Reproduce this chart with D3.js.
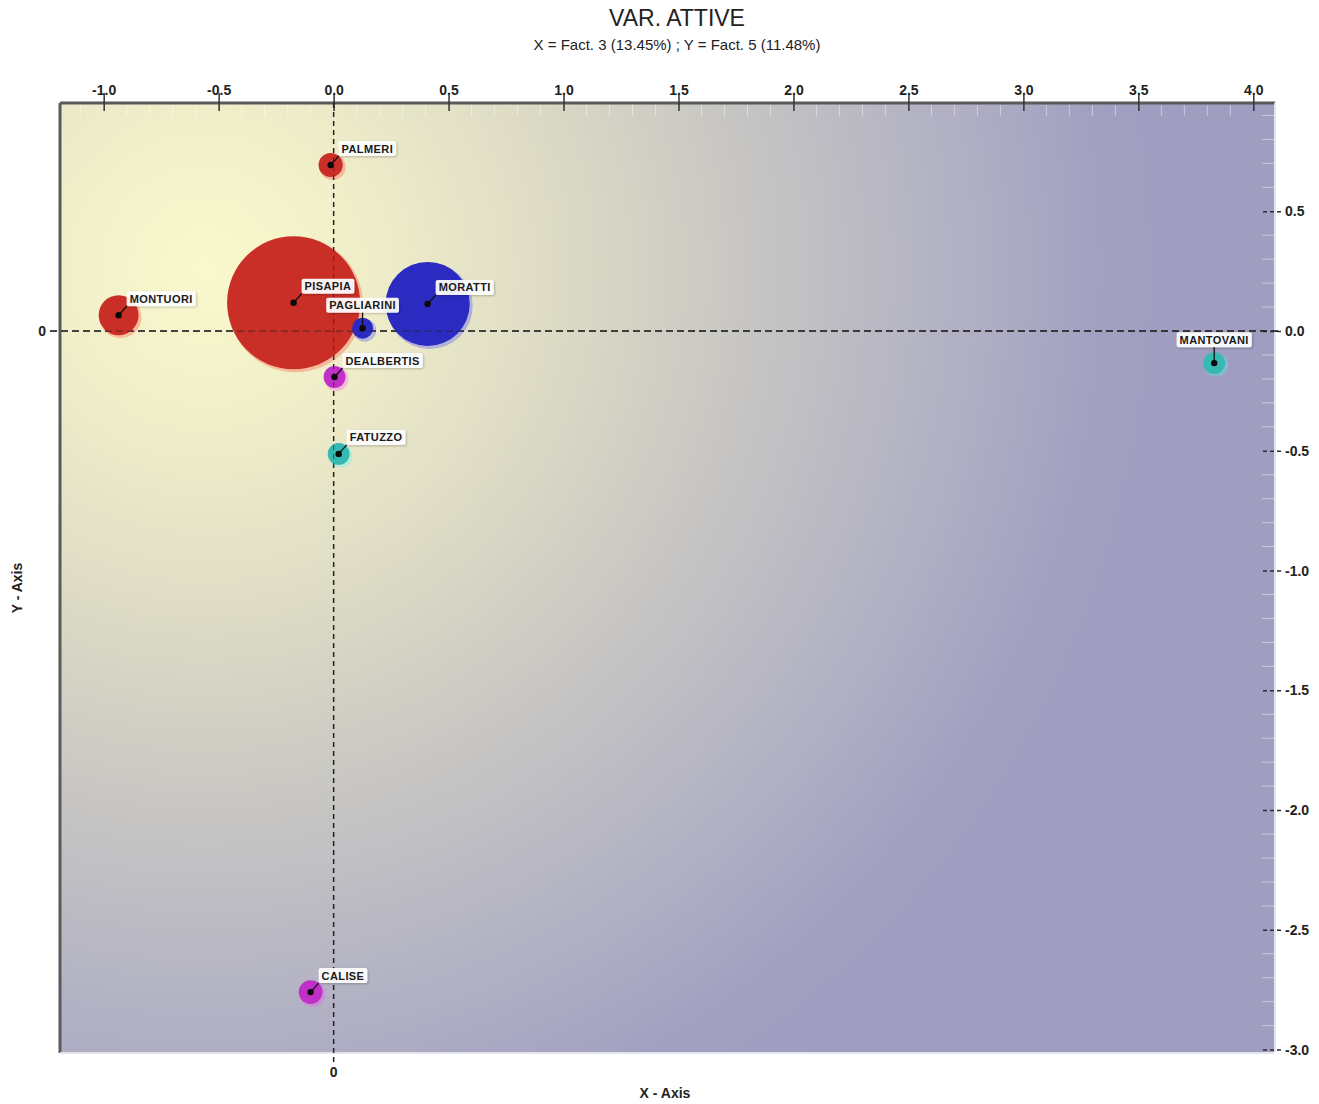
<!DOCTYPE html>
<html>
<head>
<meta charset="utf-8">
<script src="https://cdn.jsdelivr.net/npm/d3@7"></script>
<style>
  html, body { margin: 0; padding: 0; background: #ffffff; }
  svg { display: block; font-family: Arial, "Liberation Sans", sans-serif; }
</style>
</head>
<body>
<svg id="chart" width="1319" height="1104"></svg>
<script>
// ---- data ----
const names   = ["PALMERI", "MONTUORI", "PISAPIA", "MORATTI", "PAGLIARINI", "DEALBERTIS", "FATUZZO", "MANTOVANI", "CALISE"];
const xVals   = [-0.013, -0.935, -0.174, 0.409, 0.126, 0.004, 0.022, 3.83, -0.10];
const yVals   = [0.693, 0.066, 0.118, 0.113, 0.012, -0.192, -0.513, -0.134, -2.76];
const weights = [3.3, 9.0, 100, 40, 2.5, 2.7, 2.7, 2.7, 3.2];
const groups  = ["A", "A", "A", "B", "B", "C", "D", "D", "C"];
const labelAnchor = ["ne", "ne", "ne", "ne", "n", "ne", "ne", "n", "ne"];
const xTicks  = [-1.0, -0.5, 0.0, 0.5, 1.0, 1.5, 2.0, 2.5, 3.0, 3.5, 4.0];
const yTicks  = [0.5, 0.0, -0.5, -1.0, -1.5, -2.0, -2.5, -3.0];
const groupColors = { A: "#c92f27", B: "#2b2bc2", C: "#c02fc6", D: "#36b8b3" };
const titleText = "VAR. ATTIVE";
const subtitleText = "X = Fact. 3 (13.45%) ; Y = Fact. 5 (11.48%)";

// ---- layout ----
const plot = { left: 60, top: 103, right: 1274, bottom: 1052 };
const x = d3.scaleLinear().domain([-1.19, 4.09]).range([plot.left, plot.right]);
const y = d3.scaleLinear().domain([0.952, -3.01]).range([plot.top, plot.bottom]);
const r = d3.scaleSqrt().domain([0, 100]).range([0, 66.5]);
const fmt = v => d3.format(".1f")(v).replace("\u2212", "-");

const svg = d3.select("#chart");
const defs = svg.append("defs");

const grad = defs.append("radialGradient")
  .attr("id", "bg").attr("gradientUnits", "userSpaceOnUse")
  .attr("cx", 205).attr("cy", 270).attr("r", 1000);
[[0, "#faf8cc"], [0.15, "#f1efc9"], [0.35, "#dddbc5"], [0.55, "#c6c5c3"],
 [0.75, "#b2b1c4"], [0.9, "#a2a0c1"], [1, "#9f9dc0"]].forEach(([o, c]) =>
  grad.append("stop").attr("offset", o).attr("stop-color", c));

const shadow = defs.append("filter").attr("id", "lblShadow")
  .attr("x", "-20%").attr("y", "-40%").attr("width", "140%").attr("height", "180%");
shadow.append("feDropShadow").attr("dx", 1).attr("dy", 1).attr("stdDeviation", 0.8)
  .attr("flood-color", "#000").attr("flood-opacity", 0.25);

// background
svg.append("rect")
  .attr("x", plot.left).attr("y", plot.top)
  .attr("width", plot.right - plot.left).attr("height", plot.bottom - plot.top)
  .attr("fill", "url(#bg)");

// frame
svg.append("line").attr("x1", plot.left).attr("x2", plot.left)
  .attr("y1", plot.top).attr("y2", plot.bottom + 1)
  .attr("stroke", "#5a5a5a").attr("stroke-width", 3);
svg.append("line").attr("x1", plot.left).attr("x2", plot.right + 1)
  .attr("y1", plot.top).attr("y2", plot.top)
  .attr("stroke", "#5a5a5a").attr("stroke-width", 3);
svg.append("line").attr("x1", plot.left).attr("x2", plot.right)
  .attr("y1", plot.bottom + 1).attr("y2", plot.bottom + 1)
  .attr("stroke", "#e4e4ec").attr("stroke-width", 2);
svg.append("line").attr("x1", plot.right + 1).attr("x2", plot.right + 1)
  .attr("y1", plot.top).attr("y2", plot.bottom)
  .attr("stroke", "#e4e4ee").attr("stroke-width", 2);

// minor ticks (inside)
const xMinor = d3.range(-11, 41).map(i => i / 10).filter(v => Math.abs(v * 2 - Math.round(v * 2)) > 1e-6);
svg.append("g").selectAll("line").data(xMinor).join("line")
  .attr("x1", d => x(d)).attr("x2", d => x(d))
  .attr("y1", plot.top + 2).attr("y2", plot.top + 13)
  .attr("stroke", "#ffffff").attr("stroke-opacity", 0.45).attr("stroke-width", 1);
const yMinor = d3.range(-30, 10).map(i => i / 10).filter(v => Math.abs(v * 2 - Math.round(v * 2)) > 1e-6);
svg.append("g").selectAll("line").data(yMinor).join("line")
  .attr("x1", plot.right - 12).attr("x2", plot.right)
  .attr("y1", d => y(d)).attr("y2", d => y(d))
  .attr("stroke", "#ffffff").attr("stroke-opacity", 0.45).attr("stroke-width", 1);

// top axis
const topAxis = svg.append("g").attr("transform", `translate(0,${plot.top})`)
  .call(d3.axisTop(x).tickValues(xTicks).tickFormat(fmt).tickSize(0).tickPadding(8));
topAxis.select(".domain").remove();
topAxis.selectAll(".tick line").remove();
topAxis.selectAll(".tick").append("line")
  .attr("y1", -10).attr("y2", 8).attr("stroke", "#333").attr("stroke-width", 1.5);
topAxis.selectAll(".tick text")
  .attr("font-size", 14).attr("font-weight", "bold").attr("fill", "#222")
  .attr("font-family", "Arial, 'Liberation Sans', sans-serif");

// right axis
const rightAxis = svg.append("g").attr("transform", `translate(${plot.right},0)`)
  .call(d3.axisRight(y).tickValues(yTicks).tickFormat(fmt).tickSize(0).tickPadding(11));
rightAxis.select(".domain").remove();
rightAxis.selectAll(".tick line").remove();
rightAxis.selectAll(".tick").append("line")
  .attr("x1", -11).attr("x2", 9).attr("stroke", "#2a2a3a").attr("stroke-width", 1.5)
  .attr("stroke-dasharray", "4,3");
rightAxis.selectAll(".tick text")
  .attr("font-size", 14).attr("font-weight", "bold").attr("fill", "#222")
  .attr("font-family", "Arial, 'Liberation Sans', sans-serif");

// zero crosshair
svg.append("line")
  .attr("x1", x(0)).attr("x2", x(0))
  .attr("y1", plot.top).attr("y2", plot.bottom + 12)
  .attr("stroke", "#222").attr("stroke-width", 1.4).attr("stroke-dasharray", "5,4");
svg.append("line")
  .attr("x1", plot.left - 10).attr("x2", plot.right + 4)
  .attr("y1", y(0)).attr("y2", y(0))
  .attr("stroke", "#222").attr("stroke-width", 1.4).attr("stroke-dasharray", "7,4");
svg.append("text").attr("x", x(0)).attr("y", plot.bottom + 25)
  .attr("text-anchor", "middle").attr("font-size", 14).attr("font-weight", "bold").attr("fill", "#222")
  .text("0");
svg.append("text").attr("x", plot.left - 14).attr("y", y(0) + 5)
  .attr("text-anchor", "end").attr("font-size", 14).attr("font-weight", "bold").attr("fill", "#222")
  .text("0");

// bubbles
const data = names.map((n, i) => ({
  name: n, x: xVals[i], y: yVals[i], w: weights[i],
  color: groupColors[groups[i]], anchor: labelAnchor[i]
}));

const bub = svg.append("g");
bub.selectAll("circle.halo").data(data).join("circle").attr("class", "halo")
  .attr("cx", d => x(d.x) + 2).attr("cy", d => y(d.y) + 2)
  .attr("r", d => r(d.w) + 1)
  .attr("fill", d => d3.color(d.color).brighter(0.9)).attr("opacity", 0.3);
bub.selectAll("circle.main").data(data).join("circle").attr("class", "main")
  .attr("cx", d => x(d.x)).attr("cy", d => y(d.y))
  .attr("r", d => r(d.w))
  .attr("fill", d => d.color);

// crosshair drawn faintly over the bubbles as in the reference
svg.append("line")
  .attr("x1", x(0)).attr("x2", x(0))
  .attr("y1", plot.top).attr("y2", plot.bottom + 12)
  .attr("stroke", "#222").attr("stroke-width", 1.2).attr("stroke-dasharray", "5,4").attr("opacity", 0.55);
svg.append("line")
  .attr("x1", plot.left - 10).attr("x2", plot.right + 4)
  .attr("y1", y(0)).attr("y2", y(0))
  .attr("stroke", "#222").attr("stroke-width", 1.2).attr("stroke-dasharray", "7,4").attr("opacity", 0.55);

// labels
const lbl = svg.append("g");
data.forEach(d => {
  const cx = x(d.x), cy = y(d.y), rr = r(d.w);
  const g = lbl.append("g");
  const t = g.append("text")
    .attr("font-size", 11).attr("font-weight", "bold").attr("fill", "#1a1a1a")
    .attr("letter-spacing", 0.4)
    .text(d.name);
  const bb = t.node().getBBox();
  const padX = 3, h = 15;
  const w = bb.width + padX * 2;
  let bx, by, lx2, ly2;
  if (d.anchor === "n") {
    bx = cx - w / 2; by = cy - Math.max(rr, 10) - 5 - h;
    lx2 = cx; ly2 = by + h;
  } else {
    bx = cx + 8; by = cy - 9 - h;
    lx2 = bx; ly2 = by + h;
  }
  g.insert("rect", "text")
    .attr("x", bx).attr("y", by).attr("width", w).attr("height", h)
    .attr("rx", 2).attr("fill", "#ffffff").attr("fill-opacity", 0.92)
    .attr("filter", "url(#lblShadow)");
  t.attr("x", bx + padX).attr("y", by + 11.5);
  lbl.append("line").attr("x1", cx).attr("y1", cy).attr("x2", lx2).attr("y2", ly2)
    .attr("stroke", "#111").attr("stroke-width", 1.3);
});
// center dots
svg.append("g").selectAll("circle").data(data).join("circle")
  .attr("cx", d => x(d.x)).attr("cy", d => y(d.y)).attr("r", 3.2).attr("fill", "#0a0a0a");

// titles
svg.append("text").attr("x", 677).attr("y", 26).attr("text-anchor", "middle")
  .attr("font-size", 23).attr("fill", "#222").text(titleText);
svg.append("text").attr("x", 677).attr("y", 50).attr("text-anchor", "middle")
  .attr("font-size", 15).attr("fill", "#222").text(subtitleText);
svg.append("text").attr("x", 665).attr("y", 1098).attr("text-anchor", "middle")
  .attr("font-size", 14).attr("font-weight", "bold").attr("fill", "#222").text("X - Axis");
svg.append("text").attr("transform", "translate(22,588) rotate(-90)").attr("text-anchor", "middle")
  .attr("font-size", 14).attr("font-weight", "bold").attr("fill", "#222").text("Y - Axis");
</script>
</body>
</html>
